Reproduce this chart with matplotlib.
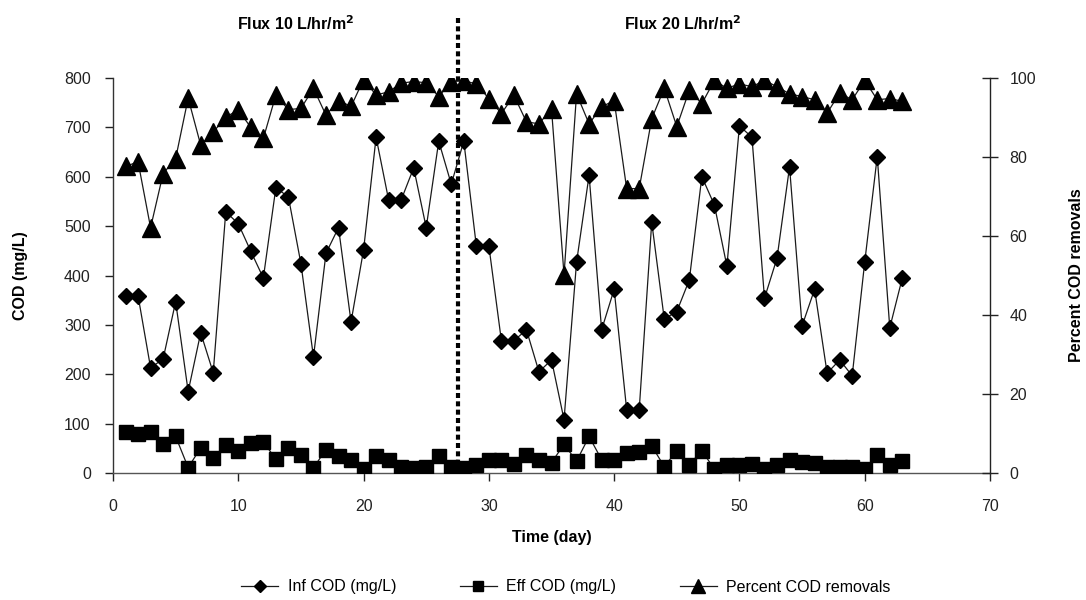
import matplotlib
matplotlib.use("Agg")
import matplotlib.pyplot as plt
from matplotlib.lines import Line2D

plt.rcParams['font.family'] = ['Liberation Sans', 'DejaVu Sans']

days = list(range(1, 64))
inf_cod = [359, 359, 213, 231, 347, 165, 284, 203, 529, 505,
           449, 395, 578, 559, 424, 235, 445, 497, 306, 452,
           680, 553, 553, 618, 497, 672, 585, 672, 460, 460,
           268, 268, 290, 205, 229, 108, 427, 603, 290, 372,
           128, 128, 508, 312, 327, 391, 600, 543, 419, 703,
           680, 354, 435, 620, 298, 372, 202, 229, 197, 427,
           641, 294, 395]
eff_cod = [84, 80, 83, 59, 74, 11, 51, 31, 57, 45,
           60, 63, 28, 50, 36, 11, 47, 35, 27, 8,
           35, 26, 13, 10, 13, 35, 13, 10, 16, 26,
           26, 18, 36, 26, 21, 58, 24, 74, 27, 26,
           40, 42, 55, 13, 45, 17, 45, 8, 16, 16,
           19, 8, 17, 27, 22, 20, 13, 13, 13, 8,
           36, 16, 24]
pct_removal = [77.6, 78.8, 62.1, 75.8, 79.6, 94.9, 83.0, 86.3, 90.1, 91.9,
               87.5, 84.7, 95.7, 92.0, 92.3, 97.4, 90.6, 94.3, 92.8, 99.6,
               95.7, 96.5, 98.7, 99.1, 98.8, 95.3, 99.1, 99.3, 98.5, 94.8,
               91.0, 95.6, 88.9, 88.4, 92.2, 50.2, 96.0, 88.4, 92.7, 94.3,
               72.0, 72.0, 89.7, 97.4, 87.7, 96.9, 93.5, 99.4, 97.4, 98.5,
               97.8, 99.4, 97.8, 96.0, 95.3, 94.5, 91.1, 96.2, 94.5, 99.4,
               94.5, 94.8, 94.1]
flux_change_day = 27.5
phase_labels = ["Flux 10 L/hr/m$^{\\mathbf{2}}$", "Flux 20 L/hr/m$^{\\mathbf{2}}$"]
series_names = ["Inf COD (mg/L)", "Eff COD (mg/L)", "Percent COD removals"]

fig = plt.figure(figsize=(10.86, 6.0), dpi=100)
W, H = 1086, 600
left, right, top, bottom = 113, 990, 78, 473
ax = fig.add_axes([left / W, 1 - bottom / H, (right - left) / W, (bottom - top) / H])
ax2 = ax.twinx()

lc = '#1a1a1a'
ax.plot(days, inf_cod, color=lc, lw=0.9, marker='D', ms=8.6, mfc='black', mec='black', zorder=3)
ax.plot(days, eff_cod, color=lc, lw=0.9, marker='s', ms=10.5, mfc='black', mec='black', zorder=3)
ax2.plot(days, pct_removal, color=lc, lw=0.9, marker='^', ms=13.5, mfc='black', mec='black', zorder=3)

ax.set_xlim(0, 70)
ax.set_ylim(0, 800)
ax2.set_ylim(0, 100)
ax.set_xticks(range(0, 71, 10))
ax.set_yticks(range(0, 801, 100))
ax2.set_yticks(range(0, 101, 20))

for a in (ax, ax2):
    a.spines['top'].set_visible(False)
    a.patch.set_visible(False)
ax.spines['right'].set_visible(False)
ax2.spines['left'].set_visible(False)
ax2.spines['bottom'].set_visible(False)
ax.spines['left'].set_color('#333333')
ax.spines['bottom'].set_color('#555555')
ax2.spines['right'].set_color('#222222')
for s in ('left', 'bottom'):
    ax.spines[s].set_linewidth(1.0)
ax2.spines['right'].set_linewidth(1.0)

ax.tick_params(axis='both', direction='out', length=6, width=1, labelsize=11.5, colors='#222222')
ax.tick_params(axis='y', pad=10)
ax.tick_params(axis='x', pad=13)
ax2.tick_params(axis='y', direction='inout', length=12, width=1, labelsize=11.5, colors='#222222', pad=8)

ax.set_xlabel("Time (day)", fontsize=11.5, fontweight='bold', labelpad=11)
ax.set_ylabel("COD (mg/L)", fontsize=11.5, fontweight='bold', labelpad=26)
ax2.set_ylabel("Percent COD removals", fontsize=11.5, fontweight='bold', labelpad=24)

ax.axvline(flux_change_day, ymin=0, ymax=(bottom - 16) / (bottom - top), color='black',
           lw=3, linestyle=(0, (1.2, 0.8)), clip_on=False, zorder=2)

fig.text(296 / W, 1 - 24 / H, phase_labels[0], ha='center', va='center', fontsize=11.5, fontweight='bold')
fig.text(683 / W, 1 - 24 / H, phase_labels[1], ha='center', va='center', fontsize=11.5, fontweight='bold')

handles = [
    Line2D([], [], color=lc, lw=0.9, marker='D', ms=6, mfc='black', mec='black'),
    Line2D([], [], color=lc, lw=0.9, marker='s', ms=7.5, mfc='black', mec='black'),
    Line2D([], [], color=lc, lw=0.9, marker='^', ms=9.5, mfc='black', mec='black'),
]
fig.legend(handles, series_names, loc='center', bbox_to_anchor=(566 / W, 1 - 587 / H), ncol=3,
           frameon=False, fontsize=11.5, handlelength=2.3, columnspacing=4.0, handletextpad=0.6)

fig.savefig("out.png", dpi=100, facecolor='white')
